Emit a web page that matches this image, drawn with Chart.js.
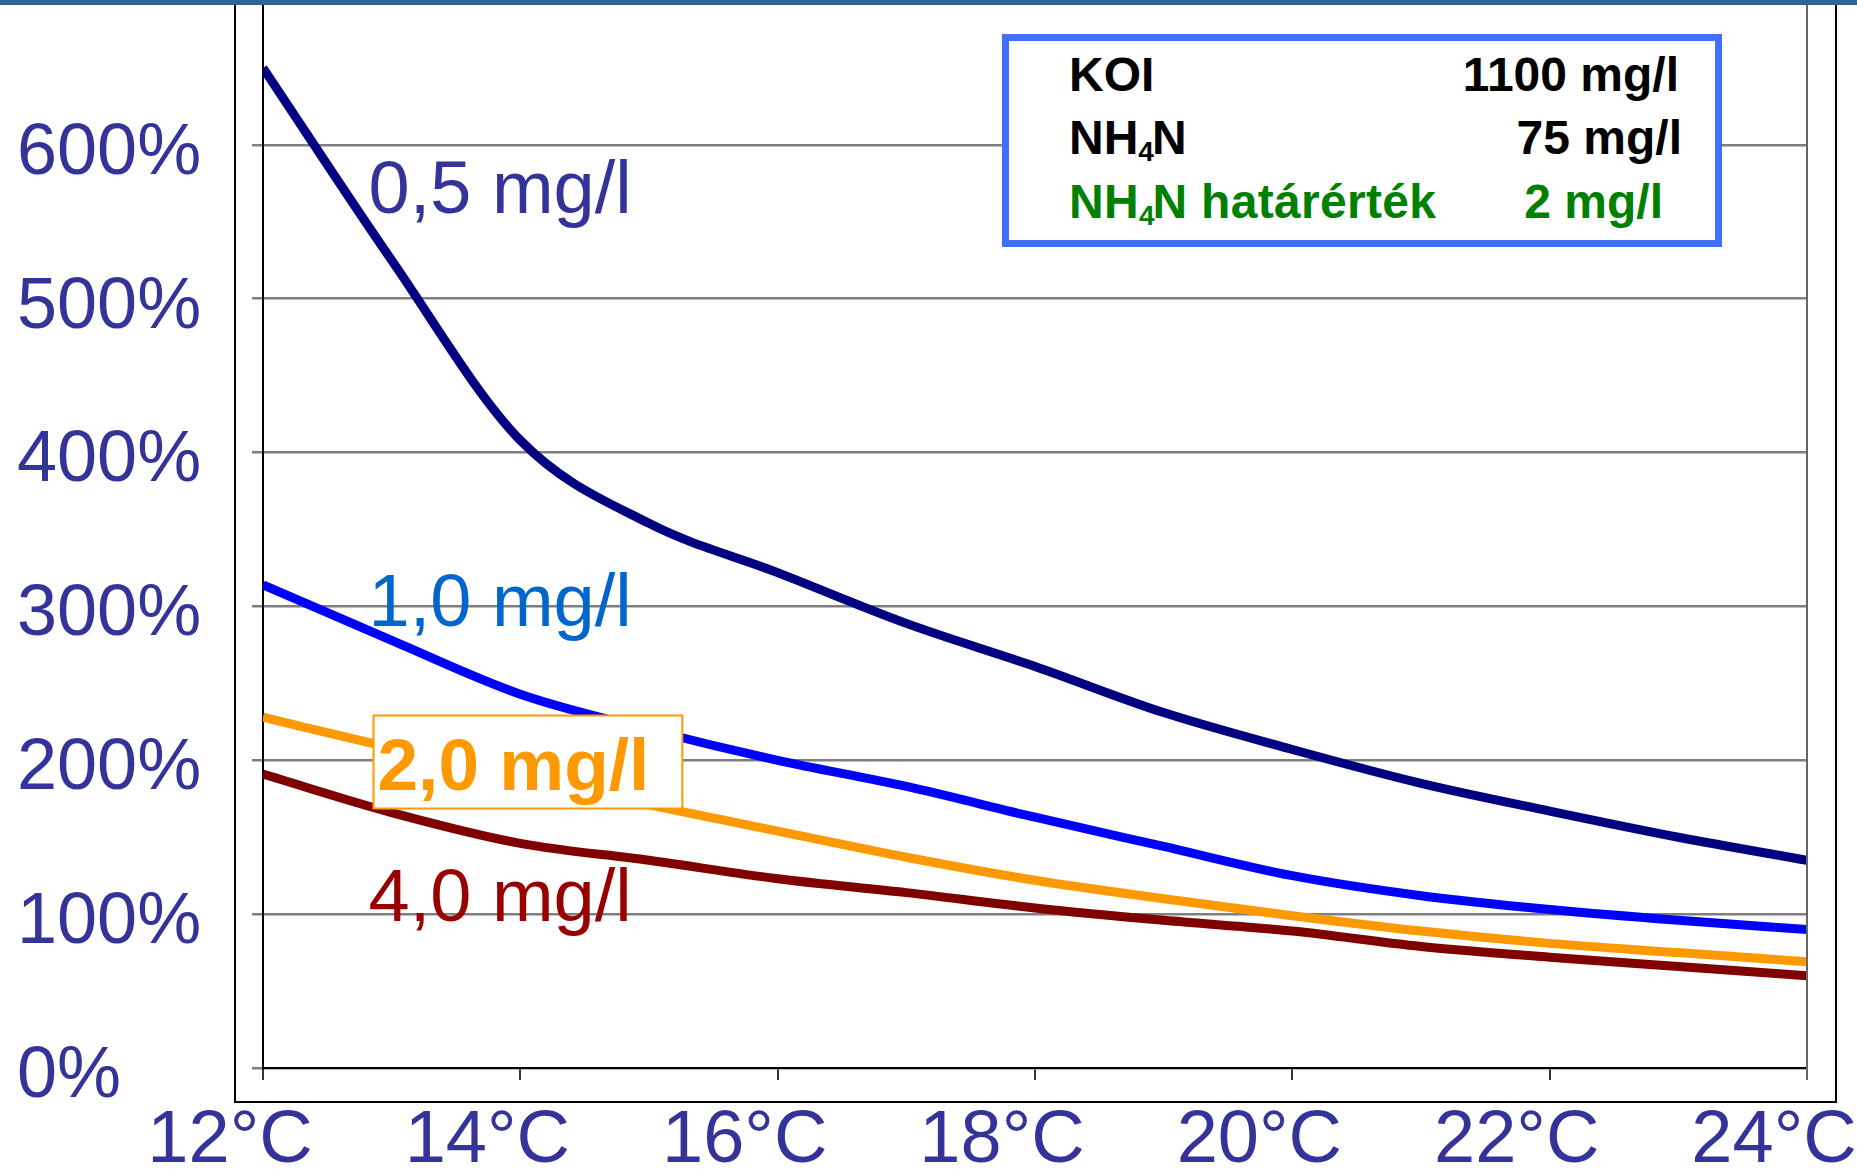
<!DOCTYPE html>
<html>
<head>
<meta charset="utf-8">
<script src="https://cdn.jsdelivr.net/npm/chart.js@4.4.1/dist/chart.umd.min.js"></script>
<style>
  html, body { margin: 0; padding: 0; background: #fff; overflow: hidden; }
  #wrap { position: absolute; left: 0; top: -20px; width: 1857px; height: 1194px; }
  #topbar { position: absolute; left: 0; top: 0; width: 1857px; height: 5px; background: #2E6496; z-index: 3; }
  #infobox {
    position: absolute; left: 1002px; top: 34px; width: 706px; height: 199px;
    border: 7px solid #4070FF; background: #fff; z-index: 2;
    font-family: 'Liberation Sans', Arial, sans-serif; font-weight: bold; font-size: 48px;
  }
  #infobox .k, #infobox .v { position: absolute; line-height: 54px; white-space: nowrap; }
  #infobox .k { left: 60px; }
  #infobox sub { font-size: 28px; vertical-align: baseline; position: relative; top: 7px; letter-spacing: -2px; }
  .green { color: #008000; }
</style>
</head>
<body>
<div id="topbar"></div>
<div id="infobox">
  <div class="k" style="top:7px">KOI</div>
  <div class="v" style="top:7px; right:36px">1100 mg/l</div>
  <div class="k" style="top:70px">NH<sub>4</sub>N</div>
  <div class="v" style="top:70px; right:33px">75 mg/l</div>
  <div class="k green" style="top:134px; letter-spacing:0.3px">NH<sub>4</sub>N határérték</div>
  <div class="v green" style="top:134px; right:52px">2 mg/l</div>
</div>
<div id="wrap"><canvas id="chart"></canvas></div>
<script>
// temperature (°C) and relative load (%)
const temperatures = [12, 13, 14, 15, 16, 17, 18, 19, 20, 21, 22, 23, 24];
const seriesNames = ['0,5 mg/l', '1,0 mg/l', '2,0 mg/l', '4,0 mg/l'];
const series05 = [650, 525, 408, 354, 322, 289, 261, 231, 207, 185, 167, 150, 135];
const series10 = [314, 278, 243, 220, 200, 183, 163, 144, 125, 112, 103, 96, 90];
const series20 = [228, 208, 189, 171, 154, 137, 122, 110, 99, 89, 81, 75, 69];
const series40 = [191, 166, 146, 135, 123, 114, 104, 96, 89, 79, 72, 66, 60];
const xTickValues = [12, 14, 16, 18, 20, 22, 24];
const yTickValues = [0, 100, 200, 300, 400, 500, 600];

const FONT = "'Liberation Sans', Arial, sans-serif";

function points(values) {
    return temperatures.map((t, i) => ({ x: t, y: values[i] }));
}

// label placement in data space: [x, y] of left/baseline
const labelStyle = [
    { at: [12.82, 556], color: '#333399', bold: false },
    { at: [12.82, 287], color: '#0066CC', bold: false },
    { at: [12.89, 181], color: '#FF9900', bold: true, box: true },
    { at: [12.82, 95.5], color: '#990000', bold: false }
];

const decorPlugin = {
    id: 'decor',
    beforeDraw(chart) {
        const { ctx, chartArea: a } = chart;
        ctx.save();
        ctx.strokeStyle = '#000';
        ctx.lineWidth = 2;
        ctx.beginPath();
        ctx.moveTo(a.left - 28, 0);
        ctx.lineTo(a.left - 28, a.bottom + 34);
        ctx.lineTo(a.right + 29, a.bottom + 34);
        ctx.lineTo(a.right + 29, 0);
        ctx.stroke();
        ctx.restore();
    },
    afterDatasetsDraw(chart) {
        const { ctx, chartArea: a, scales } = chart;
        ctx.save();
        // right edge of plot area
        ctx.strokeStyle = '#666';
        ctx.lineWidth = 2;
        ctx.beginPath();
        ctx.moveTo(a.right, a.top);
        ctx.lineTo(a.right, a.bottom + 12);
        ctx.stroke();

        chart.data.datasets.forEach((ds, i) => {
            const st = labelStyle[i];
            const px = scales.x.getPixelForValue(st.at[0]);
            const py = scales.y.getPixelForValue(st.at[1]);
            ctx.font = (st.bold ? 'bold 73px ' : '74px ') + FONT;
            ctx.textBaseline = 'alphabetic';
            ctx.textAlign = 'left';
            if (st.box) {
                const w = ctx.measureText(ds.label).width;
                ctx.fillStyle = '#fff';
                ctx.fillRect(px - 4, py - 74, w + 37, 93);
                ctx.strokeStyle = '#FF9900';
                ctx.lineWidth = 2;
                ctx.strokeRect(px - 4, py - 74, w + 37, 93);
            }
            ctx.fillStyle = st.color;
            ctx.fillText(ds.label, px, py);
        });
        ctx.restore();
    }
};

const ctx = document.getElementById('chart').getContext('2d');

const config = {
    type: 'line',
    data: {
        datasets: [
            { label: seriesNames[0], data: points(series05), borderColor: '#000080' },
            { label: seriesNames[1], data: points(series10), borderColor: '#0000FF' },
            { label: seriesNames[2], data: points(series20), borderColor: '#FF9900' },
            { label: seriesNames[3], data: points(series40), borderColor: '#800000' }
        ]
    },
    options: {
        responsive: true,
        maintainAspectRatio: false,
        animation: false,
        layout: { padding: { top: 11, left: 17, right: 50, bottom: 0 } },
        elements: {
            line: { borderWidth: 9, fill: false, cubicInterpolationMode: 'monotone' },
            point: { radius: 0 }
        },
        plugins: {
            legend: { display: false },
            tooltip: { enabled: false }
        },
        scales: {
            x: {
                type: 'linear',
                min: 12,
                max: 24,
                afterBuildTicks: s => { s.ticks = xTickValues.map(v => ({ value: v })); },
                afterFit: s => { s.height = 106; s.paddingLeft = 0; s.paddingRight = 0; },
                grid: { drawOnChartArea: false, drawTicks: true, tickLength: 12, color: '#333', lineWidth: 2 },
                border: { color: '#000', width: 2 },
                ticks: {
                    padding: 17,
                    labelOffset: -33,
                    maxRotation: 0,
                    autoSkip: false,
                    color: '#333399',
                    font: { family: FONT, size: 74 },
                    callback: v => v + '°C'
                }
            },
            y: {
                min: 0,
                max: 700,
                afterBuildTicks: s => { s.ticks = yTickValues.map(v => ({ value: v })); },
                afterFit: s => { s.width = 246; s.paddingTop = 0; s.paddingBottom = 0; },
                grid: { color: '#7f7f7f', lineWidth: 2.5, tickLength: 11, drawTicks: true },
                border: { color: '#000', width: 2 },
                ticks: {
                    crossAlign: 'far',
                    labelOffset: 9,
                    color: '#333399',
                    font: { family: FONT, size: 72 },
                    callback: v => v + '%'
                }
            }
        }
    },
    plugins: [decorPlugin]
};

new Chart(ctx, config);
</script>
</body>
</html>
